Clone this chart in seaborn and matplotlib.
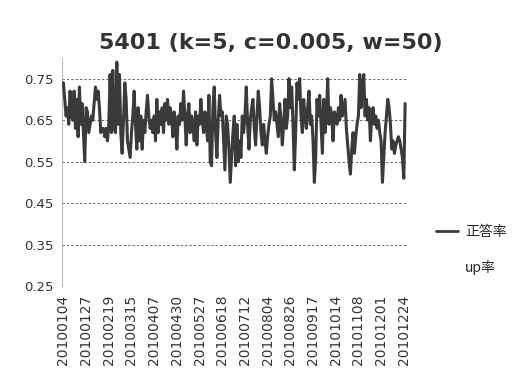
import matplotlib
matplotlib.use("Agg")
import matplotlib.pyplot as plt
from matplotlib.lines import Line2D
import seaborn as sns
import pandas as pd

title = "5401 (k=5, c=0.005, w=50)"
series_name = "正答率"
series2_name = "up率"

tick_labels = ["20100104", "20100127", "20100219", "20100315", "20100407", "20100430",
               "20100527", "20100618", "20100712", "20100804", "20100826", "20100917",
               "20101014", "20101108", "20101201", "20101224"]
tick_step = 17

accuracy = [
    0.74, 0.70, 0.66, 0.68, 0.64, 0.72, 0.66, 0.65, 0.72, 0.63, 0.70, 0.61, 0.73, 0.64, 0.69, 0.62, 0.55,
    0.68, 0.67, 0.62, 0.64, 0.66, 0.65, 0.69, 0.73, 0.70, 0.72, 0.68, 0.62, 0.63, 0.63, 0.61, 0.63, 0.60,
    0.64, 0.76, 0.62, 0.77, 0.63, 0.62, 0.79, 0.64, 0.76, 0.62, 0.57, 0.65, 0.74, 0.70, 0.60, 0.58, 0.56,
    0.62, 0.66, 0.72, 0.64, 0.58, 0.68, 0.60, 0.66, 0.58, 0.65, 0.62, 0.67, 0.71, 0.66, 0.63, 0.65, 0.62,
    0.66, 0.60, 0.70, 0.62, 0.67, 0.64, 0.68, 0.62, 0.69, 0.65, 0.70, 0.64, 0.68, 0.66, 0.61, 0.67, 0.64,
    0.58, 0.66, 0.64, 0.69, 0.65, 0.72, 0.66, 0.59, 0.66, 0.69, 0.62, 0.66, 0.64, 0.60, 0.67, 0.59, 0.66,
    0.64, 0.70, 0.65, 0.62, 0.67, 0.64, 0.60, 0.71, 0.55, 0.54, 0.68, 0.73, 0.62, 0.56, 0.65, 0.71, 0.66,
    0.67, 0.60, 0.53, 0.66, 0.64, 0.58, 0.50, 0.56, 0.62, 0.66, 0.54, 0.64, 0.55, 0.60, 0.56, 0.66, 0.62,
    0.66, 0.73, 0.64, 0.58, 0.65, 0.68, 0.70, 0.63, 0.59, 0.66, 0.72, 0.68, 0.62, 0.59, 0.64, 0.60, 0.57,
    0.61, 0.64, 0.66, 0.75, 0.70, 0.65, 0.67, 0.64, 0.61, 0.69, 0.65, 0.59, 0.64, 0.70, 0.63, 0.66, 0.75,
    0.68, 0.73, 0.64, 0.53, 0.62, 0.74, 0.70, 0.75, 0.66, 0.62, 0.70, 0.66, 0.63, 0.68, 0.72, 0.64, 0.66,
    0.60, 0.50, 0.56, 0.70, 0.66, 0.71, 0.64, 0.57, 0.70, 0.62, 0.66, 0.75, 0.64, 0.68, 0.66, 0.60, 0.67,
    0.66, 0.64, 0.68, 0.65, 0.71, 0.66, 0.68, 0.70, 0.63, 0.59, 0.55, 0.52, 0.58, 0.62, 0.57, 0.61, 0.64,
    0.66, 0.76, 0.68, 0.73, 0.76, 0.66, 0.70, 0.65, 0.68, 0.60, 0.66, 0.68, 0.64, 0.66, 0.63, 0.65, 0.62,
    0.60, 0.50, 0.56, 0.62, 0.66, 0.70, 0.68, 0.64, 0.58, 0.60, 0.57, 0.59, 0.60, 0.61, 0.60, 0.58, 0.56,
    0.51, 0.69,
]
y_ticks = [0.25, 0.35, 0.45, 0.55, 0.65, 0.75]

df = pd.DataFrame({"idx": range(len(accuracy)), "value": accuracy})

sns.set_theme(style="white")
plt.rcParams["font.family"] = ["DejaVu Sans", "Noto Sans CJK JP"]

fig = plt.figure(figsize=(5.26, 3.76), dpi=100)
ax = fig.add_axes([0.118, 0.239, 0.656, 0.607])

for yv in y_ticks:
    ax.axhline(yv, color="#6a6a6a", lw=0.7, ls=(0, (2.5, 2)), zorder=1)

sns.lineplot(data=df, x="idx", y="value", ax=ax, color="#3a3a3a", lw=2.2, zorder=3)

ax.set_ylim(0.25, 0.80)
ax.set_xlim(-1, len(accuracy) + 0.5)
ax.set_yticks(y_ticks)
ax.set_yticklabels([f"{v:.2f}" for v in y_ticks], fontsize=9.5, color="#333333")
ax.set_xticks([i * tick_step for i in range(len(tick_labels))])
ax.set_xticklabels(tick_labels, rotation=90, fontsize=10, color="#333333")
ax.tick_params(axis="both", length=0, pad=6)
ax.set_xlabel("")
ax.set_ylabel("")
for s in ["top", "right", "bottom"]:
    ax.spines[s].set_visible(False)
ax.spines["left"].set_color("#bbbbbb")
ax.spines["left"].set_linewidth(0.8)

fig.text(0.515, 0.885, title, ha="center", va="center", fontsize=16,
         fontweight="bold", color="#333333")

handles = [Line2D([], [], color="#3a3a3a", lw=2.0),
           Line2D([], [], color="white", lw=2.0)]
fig.legend(handles, [series_name, series2_name], loc="center left",
           bbox_to_anchor=(0.805, 0.335), frameon=False, handlelength=1.6,
           handletextpad=0.5, labelspacing=1.55,
           prop={"family": ["Noto Sans CJK JP", "DejaVu Sans"], "size": 10})

fig.savefig("out.png", dpi=100, facecolor="white")
